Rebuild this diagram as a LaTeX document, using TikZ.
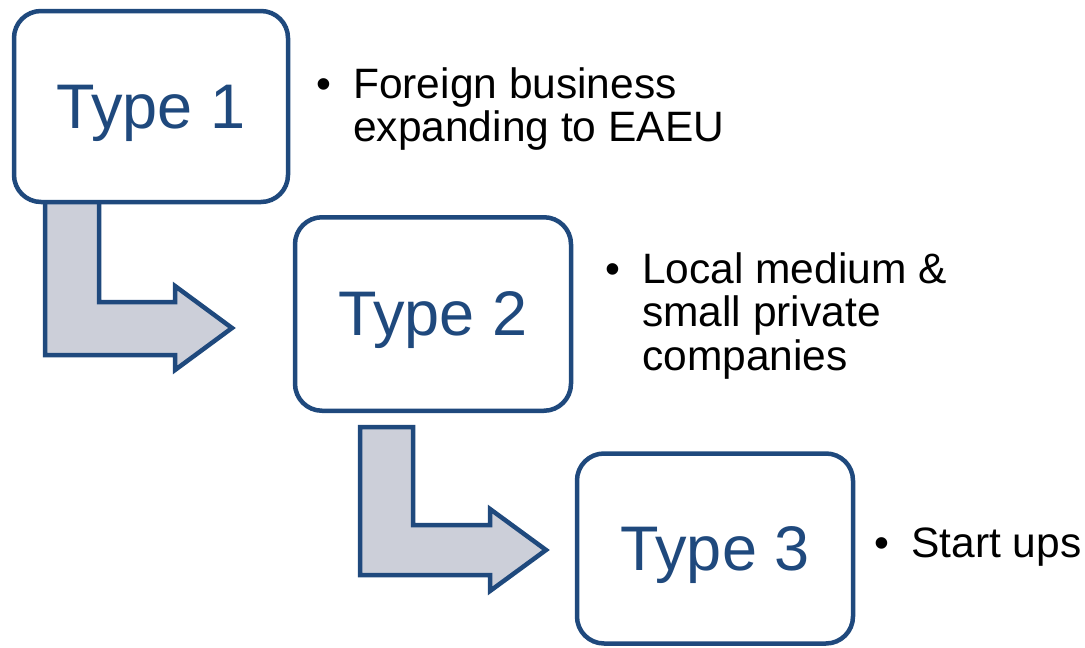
\documentclass[tikz,border=0pt]{standalone}
\usepackage{fontspec}
\setmainfont{Liberation Sans}
\definecolor{navy}{RGB}{31,73,125}
\definecolor{arrowfill}{RGB}{204,207,217}
\begin{document}
\begin{tikzpicture}[x=1pt,y=-1pt,
  typebox/.style={draw=navy, line width=4.5pt, rounded corners=27pt, fill=white,
    minimum width=276pt, text=navy, text depth=0pt, inner sep=0pt,
    font=\fontsize{63}{70}\selectfont},
  bent/.style={draw=navy, line width=4.5pt, fill=arrowfill, line join=miter},
  bul/.style={anchor=base west, inner sep=0pt, font=\fontsize{42.5}{43.5}\selectfont},
]
\useasboundingbox (0,0) rectangle (1085,648);
% block arrows
\draw[bent] (45,198) -- (45,355) -- (175,355) -- (175,370) -- (232,328) -- (175,286) -- (175,302) -- (99,302) -- (99,198) -- cycle;
\draw[bent] (360,427) -- (360,575) -- (490,575) -- (490,591) -- (546,550) -- (490,509) -- (490,525) -- (413,525) -- (413,427) -- cycle;
% boxes
\node[typebox, minimum width=274pt, minimum height=191pt] (t1) at (151,106.5) {Type 1};
\node[typebox, minimum height=193.5pt] (t2) at (433,314) {Type 2};
\node[typebox, minimum height=190pt] (t3) at (715,548.5) {Type 3};
% bullets
\node[bul] (b1) at (316,98) {•};
\node[bul] (l1) at (353,98) {\vtop{\hbox{Foreign business}\hbox{expanding to EAEU}}};
\node[bul] (b2) at (605,283) {•};
\node[bul] (l2) at (642,283) {\vtop{\hbox{Local medium \&}\hbox{small private}\hbox{companies}}};
\node[bul] (b3) at (874,557) {•};
\node[bul] (l3) at (911,557) {Start ups};
\end{tikzpicture}
\end{document}
